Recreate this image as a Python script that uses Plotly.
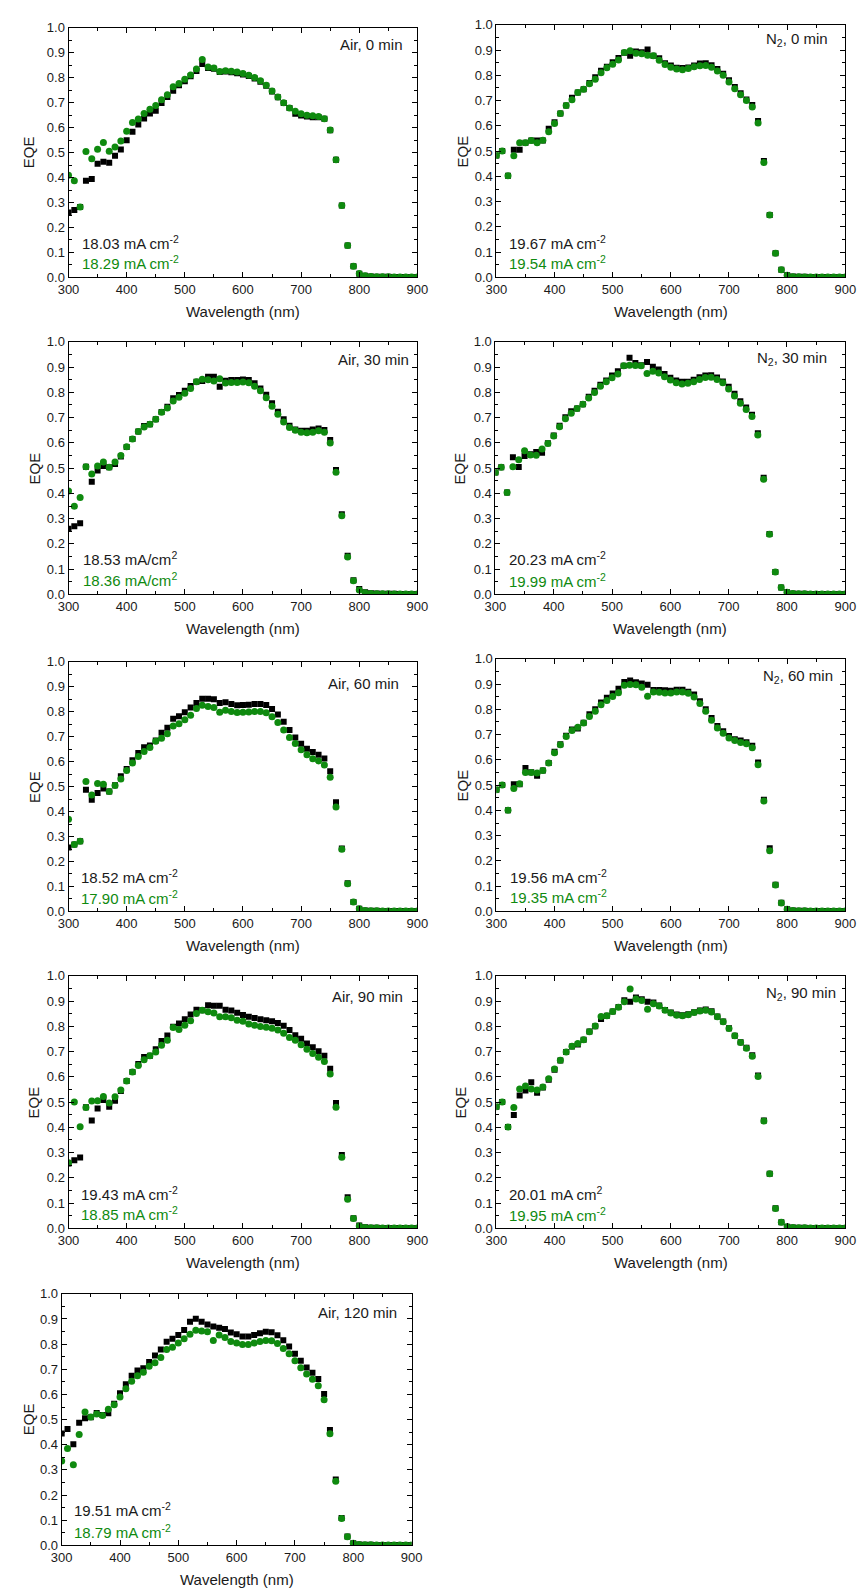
import plotly.graph_objects as go

# ---------------------------------------------------------------- data
WAVELENGTH = list(range(300, 901, 10))  # nm, measurement grid

AIR_0_A = [0.260,0.270,0.282,0.387,0.394,0.455,0.463,0.459,0.487,0.512,
           0.550,0.584,0.613,0.637,0.657,0.668,0.699,0.723,0.748,0.770,
           0.786,0.806,0.827,0.855,0.839,0.836,0.823,0.825,0.822,0.818,
           0.813,0.807,0.797,0.784,0.768,0.745,0.722,0.699,0.679,0.656,
           0.649,0.645,0.642,0.642,0.636,0.590,0.471,0.288,0.128,0.045,
           0.015,0.007,0.004,0.003,0.003,0.003,0.002,0.002,0.002,0.002,0.002]
AIR_0_B = [0.409,0.387,0.282,0.504,0.475,0.513,0.541,0.505,0.522,0.547,
           0.586,0.621,0.635,0.657,0.674,0.689,0.712,0.732,0.764,0.777,
           0.794,0.811,0.835,0.873,0.843,0.839,0.825,0.828,0.826,0.823,
           0.817,0.810,0.801,0.788,0.770,0.747,0.723,0.700,0.679,0.666,
           0.656,0.650,0.648,0.645,0.636,0.591,0.471,0.288,0.128,0.045,
           0.016,0.007,0.004,0.003,0.003,0.003,0.002,0.002,0.002,0.002,0.002]

N2_0_A = [0.483,0.501,0.403,0.505,0.505,0.533,0.542,0.542,0.542,0.589,
          0.614,0.649,0.681,0.711,0.732,0.745,0.770,0.792,0.818,0.834,
          0.852,0.869,0.889,0.878,0.894,0.891,0.902,0.878,0.868,0.848,
          0.839,0.830,0.829,0.831,0.839,0.847,0.848,0.840,0.825,0.806,
          0.781,0.754,0.729,0.704,0.683,0.619,0.461,0.247,0.096,0.030,
          0.009,0.004,0.003,0.003,0.002,0.002,0.002,0.002,0.002,0.002,0.002]
N2_0_B = [0.483,0.501,0.403,0.482,0.533,0.533,0.542,0.533,0.543,0.577,
          0.609,0.649,0.681,0.703,0.732,0.745,0.767,0.785,0.810,0.830,
          0.844,0.861,0.890,0.897,0.887,0.886,0.880,0.878,0.860,0.843,
          0.832,0.825,0.822,0.827,0.834,0.838,0.839,0.832,0.817,0.800,
          0.774,0.747,0.723,0.700,0.675,0.611,0.455,0.247,0.096,0.030,
          0.009,0.003,0.003,0.002,0.002,0.002,0.002,0.002,0.002,0.002,0.002]

AIR_30_A = [0.260,0.270,0.282,0.505,0.446,0.491,0.508,0.503,0.516,0.546,
            0.584,0.615,0.645,0.667,0.674,0.693,0.722,0.743,0.777,0.789,
            0.806,0.825,0.842,0.845,0.862,0.862,0.822,0.846,0.849,0.849,
            0.851,0.849,0.836,0.815,0.790,0.757,0.723,0.693,0.668,0.653,
            0.648,0.648,0.653,0.657,0.651,0.611,0.493,0.317,0.153,0.056,
            0.021,0.009,0.005,0.004,0.003,0.003,0.003,0.002,0.002,0.002,0.002]
AIR_30_B = [0.409,0.349,0.384,0.505,0.477,0.508,0.524,0.503,0.524,0.550,
            0.585,0.615,0.645,0.663,0.674,0.693,0.721,0.738,0.766,0.781,
            0.796,0.815,0.842,0.852,0.850,0.845,0.854,0.837,0.839,0.839,
            0.841,0.838,0.824,0.806,0.779,0.745,0.713,0.683,0.661,0.650,
            0.642,0.640,0.642,0.648,0.642,0.599,0.484,0.311,0.148,0.054,
            0.018,0.007,0.004,0.003,0.003,0.003,0.002,0.002,0.002,0.002,0.002]

N2_30_A = [0.483,0.503,0.403,0.543,0.504,0.548,0.555,0.564,0.561,0.598,
           0.629,0.668,0.701,0.725,0.736,0.753,0.783,0.806,0.830,0.847,
           0.867,0.883,0.905,0.937,0.916,0.907,0.920,0.901,0.890,0.873,
           0.858,0.847,0.842,0.842,0.850,0.860,0.867,0.868,0.859,0.843,
           0.822,0.794,0.765,0.740,0.711,0.638,0.462,0.239,0.089,0.027,
           0.009,0.004,0.003,0.003,0.002,0.002,0.002,0.002,0.002,0.002,0.002]
N2_30_B = [0.483,0.503,0.403,0.505,0.533,0.569,0.552,0.551,0.576,0.597,
           0.627,0.664,0.695,0.717,0.736,0.753,0.778,0.799,0.824,0.842,
           0.858,0.873,0.905,0.907,0.906,0.905,0.875,0.883,0.877,0.862,
           0.849,0.838,0.833,0.836,0.842,0.851,0.859,0.860,0.851,0.838,
           0.813,0.786,0.757,0.732,0.704,0.631,0.456,0.238,0.089,0.027,
           0.009,0.004,0.003,0.003,0.002,0.002,0.002,0.002,0.002,0.002,0.002]

AIR_60_A = [0.256,0.268,0.281,0.487,0.447,0.474,0.492,0.480,0.505,0.541,
            0.571,0.606,0.635,0.658,0.665,0.685,0.716,0.736,0.772,0.782,
            0.798,0.817,0.835,0.852,0.852,0.850,0.835,0.838,0.831,0.826,
            0.827,0.828,0.831,0.831,0.827,0.811,0.789,0.760,0.727,0.697,
            0.672,0.652,0.639,0.628,0.613,0.562,0.437,0.252,0.113,0.038,
            0.011,0.004,0.003,0.003,0.002,0.002,0.002,0.002,0.002,0.002,0.002]
AIR_60_B = [0.369,0.268,0.281,0.520,0.466,0.512,0.509,0.480,0.504,0.530,
            0.565,0.595,0.621,0.641,0.657,0.682,0.694,0.712,0.743,0.752,
            0.768,0.786,0.813,0.826,0.821,0.817,0.798,0.806,0.801,0.797,
            0.798,0.799,0.801,0.801,0.796,0.780,0.757,0.727,0.697,0.673,
            0.648,0.628,0.612,0.603,0.587,0.537,0.418,0.249,0.111,0.038,
            0.011,0.004,0.003,0.003,0.002,0.002,0.002,0.002,0.002,0.002,0.002]

N2_60_A = [0.482,0.500,0.401,0.503,0.503,0.568,0.551,0.537,0.558,0.588,
           0.632,0.662,0.695,0.720,0.724,0.747,0.781,0.800,0.827,0.846,
           0.863,0.882,0.908,0.914,0.907,0.902,0.897,0.877,0.877,0.876,
           0.874,0.878,0.878,0.870,0.859,0.832,0.800,0.766,0.734,0.713,
           0.694,0.682,0.677,0.670,0.656,0.590,0.442,0.250,0.106,0.034,
           0.009,0.004,0.003,0.003,0.002,0.002,0.002,0.002,0.002,0.002,0.002]
N2_60_B = [0.482,0.500,0.401,0.487,0.505,0.550,0.550,0.548,0.558,0.588,
           0.628,0.660,0.692,0.716,0.729,0.746,0.772,0.792,0.818,0.835,
           0.851,0.866,0.895,0.898,0.897,0.887,0.852,0.869,0.868,0.865,
           0.865,0.869,0.869,0.864,0.849,0.823,0.792,0.757,0.726,0.705,
           0.687,0.677,0.669,0.664,0.648,0.581,0.437,0.240,0.105,0.033,
           0.009,0.004,0.003,0.003,0.002,0.002,0.002,0.002,0.002,0.002,0.002]

AIR_90_A = [0.257,0.270,0.281,0.480,0.427,0.475,0.508,0.482,0.505,0.544,
            0.584,0.619,0.651,0.679,0.684,0.709,0.742,0.764,0.798,0.811,
            0.828,0.847,0.866,0.864,0.883,0.881,0.881,0.866,0.863,0.854,
            0.845,0.838,0.833,0.828,0.824,0.820,0.813,0.802,0.785,0.765,
            0.751,0.732,0.717,0.701,0.684,0.632,0.496,0.291,0.123,0.040,
            0.012,0.005,0.003,0.003,0.002,0.002,0.002,0.002,0.002,0.002,0.002]
AIR_90_B = [0.260,0.500,0.402,0.479,0.504,0.505,0.522,0.496,0.521,0.548,
            0.584,0.619,0.645,0.668,0.684,0.698,0.725,0.745,0.795,0.787,
            0.804,0.822,0.851,0.864,0.858,0.853,0.838,0.838,0.834,0.824,
            0.820,0.809,0.804,0.799,0.796,0.792,0.785,0.773,0.756,0.745,
            0.727,0.709,0.692,0.678,0.661,0.611,0.480,0.282,0.115,0.039,
            0.010,0.004,0.003,0.003,0.002,0.002,0.002,0.002,0.002,0.002,0.002]

N2_90_A = [0.482,0.500,0.401,0.449,0.526,0.546,0.579,0.537,0.558,0.589,
           0.628,0.665,0.698,0.720,0.728,0.747,0.780,0.800,0.829,0.842,
           0.859,0.877,0.903,0.897,0.914,0.907,0.897,0.894,0.882,0.865,
           0.855,0.847,0.844,0.848,0.856,0.863,0.867,0.860,0.839,0.819,
           0.792,0.763,0.737,0.715,0.686,0.605,0.427,0.216,0.080,0.024,
           0.007,0.004,0.003,0.003,0.002,0.002,0.002,0.002,0.002,0.002,0.002]
N2_90_B = [0.482,0.500,0.401,0.479,0.552,0.564,0.552,0.548,0.560,0.592,
           0.631,0.666,0.698,0.721,0.732,0.747,0.779,0.801,0.839,0.842,
           0.859,0.876,0.897,0.948,0.908,0.902,0.868,0.889,0.880,0.864,
           0.853,0.844,0.842,0.846,0.855,0.861,0.864,0.857,0.838,0.818,
           0.791,0.763,0.736,0.713,0.682,0.601,0.425,0.216,0.079,0.024,
           0.007,0.004,0.003,0.003,0.002,0.002,0.002,0.002,0.002,0.002,0.002]

AIR_120_A = [0.445,0.463,0.402,0.487,0.505,0.509,0.526,0.518,0.525,0.563,
             0.605,0.640,0.674,0.695,0.704,0.729,0.755,0.779,0.809,0.821,
             0.836,0.856,0.889,0.901,0.889,0.878,0.870,0.865,0.860,0.846,
             0.839,0.830,0.830,0.836,0.843,0.849,0.847,0.835,0.815,0.791,
             0.762,0.734,0.707,0.686,0.661,0.602,0.459,0.262,0.109,0.035,
             0.009,0.004,0.003,0.003,0.002,0.002,0.002,0.002,0.002,0.002,0.002]
AIR_120_B = [0.335,0.385,0.321,0.441,0.530,0.510,0.522,0.516,0.541,0.559,
             0.590,0.623,0.652,0.674,0.688,0.712,0.726,0.747,0.779,0.788,
             0.804,0.821,0.839,0.855,0.852,0.849,0.814,0.836,0.826,0.810,
             0.804,0.798,0.798,0.804,0.810,0.814,0.813,0.802,0.783,0.762,
             0.734,0.706,0.681,0.660,0.635,0.579,0.444,0.255,0.107,0.034,
             0.009,0.004,0.003,0.003,0.002,0.002,0.002,0.002,0.002,0.002,0.002]

CONDITIONS = ["Air, 0 min", "N<sub>2</sub>, 0 min",
              "Air, 30 min", "N<sub>2</sub>, 30 min",
              "Air, 60 min", "N<sub>2</sub>, 60 min",
              "Air, 90 min", "N<sub>2</sub>, 90 min",
              "Air, 120 min"]
SERIES_A = [AIR_0_A, N2_0_A, AIR_30_A, N2_30_A, AIR_60_A, N2_60_A,
            AIR_90_A, N2_90_A, AIR_120_A]
SERIES_B = [AIR_0_B, N2_0_B, AIR_30_B, N2_30_B, AIR_60_B, N2_60_B,
            AIR_90_B, N2_90_B, AIR_120_B]
JSC_A = ["18.03 mA cm<sup>-2</sup>", "19.67 mA cm<sup>-2</sup>",
         "18.53 mA/cm<sup>2</sup>", "20.23 mA cm<sup>-2</sup>",
         "18.52 mA cm<sup>-2</sup>", "19.56 mA cm<sup>-2</sup>",
         "19.43 mA cm<sup>-2</sup>", "20.01 mA cm<sup>2</sup>",
         "19.51 mA cm<sup>-2</sup>"]
JSC_B = ["18.29 mA cm<sup>-2</sup>", "19.54 mA cm<sup>-2</sup>",
         "18.36 mA/cm<sup>2</sup>", "19.99 mA cm<sup>-2</sup>",
         "17.90 mA cm<sup>-2</sup>", "19.35 mA cm<sup>-2</sup>",
         "18.85 mA cm<sup>-2</sup>", "19.95 mA cm<sup>-2</sup>",
         "18.79 mA cm<sup>-2</sup>"]

# ---------------------------------------------------------------- layout (pixels)
W, H = 868, 1596
# plot boxes: left, right, top, bottom
BOXES = [(59, 417, 21, 273), (498, 856, 18, 273),
         (59, 417, 338, 593), (497, 856, 338, 593),
         (59, 417, 661, 913), (498, 856, 658, 913),
         (59, 417, 978, 1233), (498, 856, 978, 1233),
         (52, 411, 1299, 1553)]
# condition label: right edge x, centre y
COND_POS = [(404, 38), (840, 33), (410, 356), (839, 355), (400, 683),
            (845, 676), (404, 999), (848, 996), (398, 1318)]
# current-density labels: left x, centre y of first and second line
JSC_POS = [(71, 238, 258), (509, 238, 258), (72, 557, 578), (509, 557, 579),
           (70, 878, 899), (510, 878, 898), (70, 1198, 1218), (509, 1198, 1219),
           (63, 1517, 1539)]
YTITLE_OFF = [41, 35, 35, 37, 35, 35, 36, 37, 34]

BLACK = "#000000"
GREEN = "#0f8a0f"
TEXT = "#1a1a1a"
FONT = "Arial, Liberation Sans, sans-serif"
TICK_SIZE = 13
LABEL_SIZE = 15


def px(x):
    return x / W


def py(y):
    return 1 - y / H


fig = go.Figure()
annotations = []
layout = dict(
    width=W, height=H, margin=dict(l=0, r=0, t=0, b=0),
    paper_bgcolor="white", plot_bgcolor="white", showlegend=False,
    font=dict(family=FONT, size=LABEL_SIZE, color=TEXT),
)


def note(text, x, y, xanchor, color=TEXT, angle=0):
    return dict(text=text, xref="paper", yref="paper", x=x, y=y,
                xanchor=xanchor, yanchor="middle", showarrow=False,
                textangle=angle,
                font=dict(family=FONT, size=LABEL_SIZE, color=color))


for i in range(9):
    n = "" if i == 0 else str(i + 1)
    xa, ya = "x" + n, "y" + n
    left, right, top, bottom = BOXES[i]

    fig.add_trace(go.Scatter(
        x=WAVELENGTH, y=SERIES_A[i], xaxis=xa, yaxis=ya, mode="markers",
        marker=dict(symbol="square", size=6, color=BLACK, line=dict(width=0))))
    fig.add_trace(go.Scatter(
        x=WAVELENGTH, y=SERIES_B[i], xaxis=xa, yaxis=ya, mode="markers",
        marker=dict(symbol="circle", size=7, color=GREEN, line=dict(width=0))))

    common = dict(
        showline=True, linecolor="black", linewidth=1, mirror="allticks",
        ticks="inside", ticklen=5, tickwidth=1, tickcolor="black",
        showgrid=False, zeroline=False,
        tickfont=dict(family=FONT, size=TICK_SIZE, color=TEXT),
    )
    layout["xaxis" + n] = dict(
        common, domain=[px(left), px(right)], anchor=ya,
        range=[300, 900], tick0=300, dtick=100,
        minor=dict(dtick=50, ticks="inside", ticklen=3, tickcolor="black"),
    )
    layout["yaxis" + n] = dict(
        common, domain=[py(bottom), py(top)], anchor=xa,
        range=[0, 1.0], tick0=0, dtick=0.1, tickformat=".1f",
        minor=dict(dtick=0.05, ticks="inside", ticklen=3, tickcolor="black"),
    )

    # axis titles
    annotations.append(note("Wavelength (nm)", px((left + right) / 2),
                            py(bottom + 34), "center"))
    annotations.append(note("EQE", px(left - YTITLE_OFF[i]),
                            py((top + bottom) / 2), "center", angle=-90))

    # condition label
    cx, cy = COND_POS[i]
    annotations.append(note(CONDITIONS[i], px(cx), py(cy), "right"))

    # short-circuit current density labels
    jx, jy1, jy2 = JSC_POS[i]
    annotations.append(note(JSC_A[i], px(jx), py(jy1), "left"))
    annotations.append(note(JSC_B[i], px(jx), py(jy2), "left", color=GREEN))

layout["annotations"] = annotations
fig.update_layout(**layout)
fig.write_html("out.html")
